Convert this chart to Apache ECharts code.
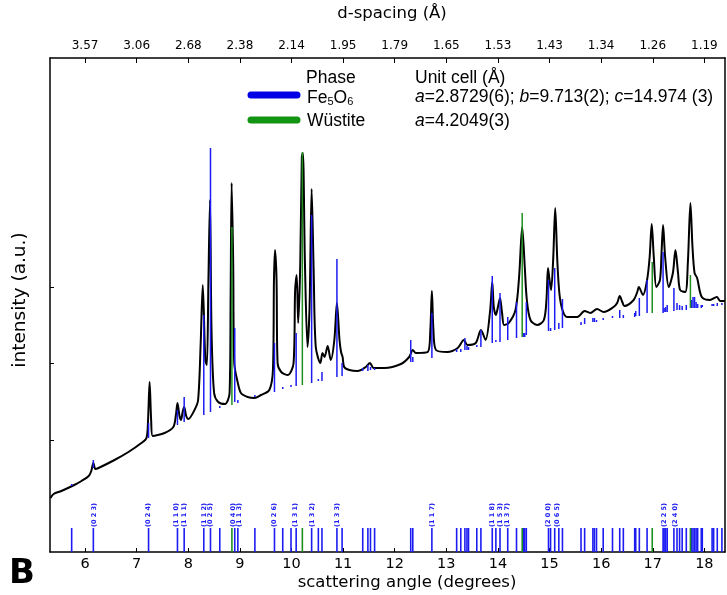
<!DOCTYPE html>
<html><head><meta charset="utf-8">
<script src="https://cdn.jsdelivr.net/npm/echarts@6/dist/echarts.min.js"></script>
<style>html,body{margin:0;padding:0;background:#fff}#c{width:727px;height:595px}</style>
</head><body><div id="c"></div>
<script>
// ---- data ----
const xTicks = [6,7,8,9,10,11,12,13,14,15,16,17,18];
const dSpacingLabels = ['3.57','3.06','2.68','2.38','2.14','1.95','1.79','1.65','1.53','1.43','1.34','1.26','1.19'];
const yTickVals = [112,189,265];

// observed profile: [2theta (deg), intensity (a.u.)]
const profile = [
[5.33,54],[5.39,58],[5.54,61],[5.79,67],[5.93,71],[6.07,76],[6.12,81],[6.16,89],[6.20,83],[6.26,84],[6.57,92],[6.84,100],[7.09,109],[7.19,114],[7.22,132],[7.25,170],[7.28,132],[7.31,116],[7.54,119],[7.71,125],[7.76,137],[7.79,149],[7.83,136],[7.86,132],[7.89,140],[7.92,145],[7.96,136],[8.00,133],[8.12,142],[8.19,152],[8.24,209],[8.28,267],[8.33,192],[8.36,187],[8.39,272],[8.42,352],[8.45,222],[8.50,159],[8.58,150],[8.71,148],[8.80,159],[8.82,255],[8.84,369],[8.87,289],[8.89,189],[8.96,169],[9.02,159],[9.15,155],[9.28,154],[9.41,157],[9.57,162],[9.64,182],[9.66,272],[9.68,302],[9.71,272],[9.73,189],[9.80,180],[9.93,177],[10.04,189],[10.07,262],[10.10,277],[10.13,229],[10.17,289],[10.20,395],[10.22,399],[10.26,289],[10.31,205],[10.35,245],[10.39,363],[10.43,279],[10.47,205],[10.56,189],[10.60,199],[10.64,195],[10.70,206],[10.76,192],[10.83,212],[10.88,249],[10.93,212],[10.96,200],[10.99,195],[11.02,185],[11.12,182],[11.28,181],[11.44,185],[11.52,189],[11.59,184],[11.80,184],[12.12,188],[12.28,195],[12.35,202],[12.41,199],[12.64,200],[12.69,222],[12.72,261],[12.75,222],[12.80,202],[13.02,200],[13.22,204],[13.34,212],[13.41,207],[13.57,209],[13.67,222],[13.76,212],[13.85,242],[13.89,270],[13.92,245],[13.96,237],[14.00,245],[14.04,254],[14.08,239],[14.12,227],[14.21,229],[14.34,242],[14.41,275],[14.47,325],[14.52,285],[14.56,252],[14.63,232],[14.76,227],[14.89,232],[14.94,252],[14.97,284],[15.00,272],[15.03,262],[15.07,292],[15.11,344],[15.15,292],[15.19,259],[15.25,242],[15.34,235],[15.54,235],[15.68,241],[15.79,239],[15.92,243],[16.05,240],[16.24,245],[16.31,249],[16.36,256],[16.41,250],[16.45,246],[16.63,252],[16.70,260],[16.73,265],[16.81,257],[16.89,272],[16.94,295],[16.98,328],[17.02,295],[17.07,265],[17.14,272],[17.17,299],[17.20,327],[17.24,295],[17.31,265],[17.39,279],[17.44,302],[17.49,279],[17.53,262],[17.63,260],[17.68,289],[17.73,349],[17.77,305],[17.81,279],[17.86,274],[17.95,255],[18.11,252],[18.24,255],[18.31,251],[18.40,251]
];

// Fe5O6 reflections: position, background level, calculated top
const fePos  = [5.74,6.16,7.23,7.79,7.92,8.30,8.43,8.61,8.90,8.96,9.29,9.67,9.83,9.99,10.09,10.39,10.52,10.59,10.88,10.98,11.38,11.48,11.53,11.61,12.31,12.35,12.72,13.20,13.28,13.36,13.40,13.43,13.59,13.67,13.89,13.96,14.04,14.19,14.36,14.49,14.52,14.55,14.98,15.02,15.10,15.18,15.25,15.61,15.68,15.84,15.87,15.91,16.04,16.22,16.36,16.43,16.65,16.67,16.74,16.89,17.20,17.22,17.25,17.28,17.41,17.47,17.52,17.57,17.65,17.75,17.78,17.81,17.84,17.87,17.94,17.96,18.15,18.18,18.25,18.34];
const feBase = [66,84,114,127,130,137,140,144,150,149,155,160,163,165,166,169,171,171,175,176,181,181,182,182,190,190,194,200,200,202,202,202,205,205,209,210,210,212,214,215,215,217,221,221,222,223,224,227,228,230,230,230,232,234,234,234,235,236,236,239,239,240,240,240,241,242,242,242,242,244,244,244,244,244,244,245,246,246,246,247];
const feTop  = [68,92,129,142,155,237,404,146,224,152,157,209,165,167,219,337,173,180,293,189,184,187,185,184,212,195,239,203,203,214,206,205,207,222,276,212,259,235,250,219,219,250,272,224,284,229,253,230,234,234,234,232,234,236,242,237,239,241,254,272,300,244,245,247,264,249,247,246,247,252,255,255,250,248,247,247,248,248,249,249];

// Wüstite reflections
const wuPos  = [8.845,10.21,14.47,16.99,17.73];
const wuBase = [147,167,215,239,244];
const wuTop  = [325,400,339,290,277];

// hkl labels
const hklPos  = [6.17,7.23,7.77,7.93,8.31,8.43,8.88,8.99,9.67,10.07,10.41,10.88,12.72,13.90,14.05,14.19,14.98,15.15,17.22,17.44];
const hklText = ['(0 2 3)','(0 2 4)','(1 1 0)','(1 1 1)','(1 1 2)','(0 2 5)','(0 4 0)','(1 1 3)','(0 2 6)','(1 3 1)','(1 3 2)','(1 3 3)','(1 1 7)','(1 1 8)','(1 5 3)','(1 3 7)','(2 0 0)','(0 6 5)','(2 2 5)','(2 4 0)'];

// ---- chart ----
const BLUE = '#1c1cf2', GREEN = '#1f8f1f';
const FONT = 'DejaVu Sans';
const chart = echarts.init(document.getElementById('c'), null, {renderer:'canvas'});

const stickData = [];
fePos.forEach((p,i)=>stickData.push([p, feBase[i], feTop[i], 0]));
wuPos.forEach((p,i)=>stickData.push([p, wuBase[i], wuTop[i], 1]));
const tickData = [];
fePos.forEach(p=>tickData.push([p,0,0]));
wuPos.forEach(p=>tickData.push([p,0,1]));
const hklData = hklPos.map((p,i)=>[p,0,i]);

const axisLineStyle = {color:'#000', width:1.5};

chart.setOption({
  animation:false,
  backgroundColor:'#fff',
  grid:{left:50,right:2,top:58,bottom:43},
  xAxis:[
    {type:'value',position:'bottom',min:5.32,max:18.4,
     axisLine:{show:true,onZero:false,lineStyle:axisLineStyle},
     axisTick:{show:true,inside:true,length:4,customValues:xTicks,lineStyle:{color:'#000'}},
     axisLabel:{customValues:xTicks,color:'#000',fontFamily:FONT,fontSize:14.5,margin:5},
     splitLine:{show:false}},
    {type:'value',position:'top',min:5.32,max:18.4,
     axisLine:{show:true,onZero:false,lineStyle:axisLineStyle},
     axisTick:{show:true,inside:true,length:5,customValues:xTicks,lineStyle:{color:'#000'}},
     axisLabel:{customValues:xTicks,color:'#000',fontFamily:FONT,fontSize:12,margin:6,
       formatter:v=>dSpacingLabels[xTicks.indexOf(Math.round(v))]},
     splitLine:{show:false}}
  ],
  yAxis:[
    {type:'value',position:'left',min:0,max:494,
     axisLine:{show:true,onZero:false,lineStyle:axisLineStyle},
     axisTick:{show:true,inside:true,length:4,customValues:yTickVals,lineStyle:{color:'#000'}},
     axisLabel:{show:false},splitLine:{show:false}},
    {type:'value',position:'right',min:0,max:494,
     axisLine:{show:true,onZero:false,lineStyle:axisLineStyle},
     axisTick:{show:false},axisLabel:{show:false},splitLine:{show:false}}
  ],
  series:[
    {type:'line',data:profile,showSymbol:false,smooth:0.3,z:2,
     lineStyle:{color:'#000',width:2},silent:true},
    {type:'custom',z:3,silent:true,data:stickData,
     renderItem:(params,api)=>{
       const x=api.value(0),b=api.value(1),t=api.value(2),ph=api.value(3);
       const p1=api.coord([x,b]),p2=api.coord([x,t]);
       const y2=Math.min(p2[1],p1[1]-2);
       return {type:'line',shape:{x1:p1[0],y1:p1[1],x2:p2[0],y2:y2},
         style:{stroke:ph?GREEN:BLUE,lineWidth:1.5}};
     }},
    {type:'custom',z:3,silent:true,data:tickData,
     renderItem:(params,api)=>{
       const x=api.value(0),ph=api.value(2);
       const p=api.coord([x,0]);
       return {type:'line',shape:{x1:p[0],y1:p[1],x2:p[0],y2:p[1]-24},
         style:{stroke:ph?GREEN:BLUE,lineWidth:1.6}};
     }},
    {type:'custom',z:3,silent:true,data:hklData,
     renderItem:(params,api)=>{
       const x=api.value(0),i=api.value(2);
       const p=api.coord([x,0]);
       return {type:'text',x:p[0],y:p[1]-37,rotation:Math.PI/2,
         style:{text:hklText[i],fill:BLUE,font:'bold 6.5px "DejaVu Sans"',align:'center',verticalAlign:'middle'}};
     }}
  ],
  graphic:[
    {type:'text',position:[392,14],style:{text:'d-spacing (Å)',fill:'#000',font:'16.5px "DejaVu Sans"',align:'center',verticalAlign:'middle'}},
    {type:'text',position:[407,583],style:{text:'scattering angle (degrees)',fill:'#000',font:'16.5px "DejaVu Sans"',align:'center',verticalAlign:'middle'}},
    {type:'text',position:[20,300],rotation:Math.PI/2,style:{text:'intensity (a.u.)',fill:'#000',font:'18.5px "DejaVu Sans"',align:'center',verticalAlign:'middle'}},
    {type:'text',position:[22,574],style:{text:'B',fill:'#000',font:'bold 34px "DejaVu Sans"',align:'center',verticalAlign:'middle'}},
    {type:'text',position:[306,78],style:{text:'Phase',fill:'#000',font:'17.5px "Liberation Sans"',align:'left',verticalAlign:'middle'}},
    {type:'text',position:[415,78],style:{text:'Unit cell (Å)',fill:'#000',font:'17.5px "Liberation Sans"',align:'left',verticalAlign:'middle'}},
    {type:'line',shape:{x1:251,y1:95,x2:297,y2:95},style:{stroke:'#0000e6',lineWidth:7,lineCap:'round'}},
    {type:'line',shape:{x1:251,y1:120,x2:297,y2:120},style:{stroke:'#129312',lineWidth:7,lineCap:'round'}},
    {type:'text',position:[307,97],style:{
      text:'{n|Fe}{s|5}{n|O}{s|6}',align:'left',verticalAlign:'middle',
      rich:{n:{fontFamily:'Liberation Sans',fontSize:17.5,fill:'#000',verticalAlign:'bottom',lineHeight:20},
            s:{fontFamily:'Liberation Sans',fontSize:11,fill:'#000',verticalAlign:'bottom',lineHeight:17}}}},
    {type:'text',position:[307,121],style:{text:'Wüstite',fill:'#000',font:'17.5px "Liberation Sans"',align:'left',verticalAlign:'middle'}},
    {type:'text',position:[415,97],style:{
      text:'{i|a}{n|=2.8729(6); }{i|b}{n|=9.713(2); }{i|c}{n|=14.974 (3)}',align:'left',verticalAlign:'middle',
      rich:{n:{fontFamily:'Liberation Sans',fontSize:17.5,fill:'#000'},
            i:{fontFamily:'Liberation Sans',fontSize:17.5,fontStyle:'italic',fill:'#000'}}}},
    {type:'text',position:[415,121],style:{
      text:'{i|a}{n|=4.2049(3)}',align:'left',verticalAlign:'middle',
      rich:{n:{fontFamily:'Liberation Sans',fontSize:17.5,fill:'#000'},
            i:{fontFamily:'Liberation Sans',fontSize:17.5,fontStyle:'italic',fill:'#000'}}}}
  ]
});
</script></body></html>
